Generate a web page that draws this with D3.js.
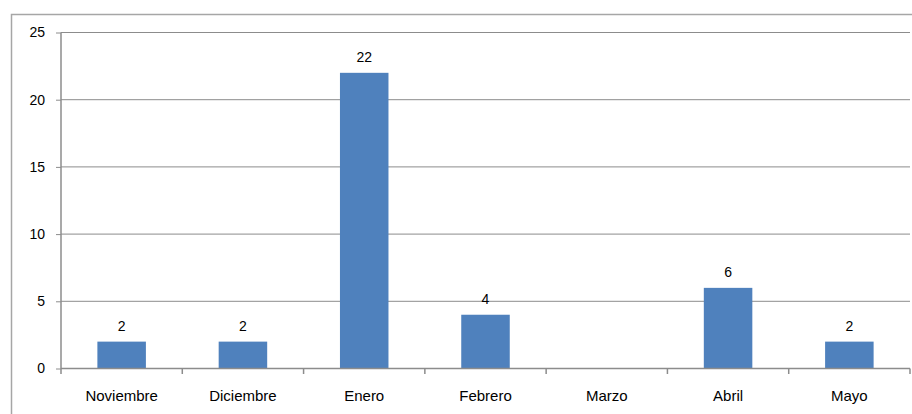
<!DOCTYPE html>
<html><head><meta charset="utf-8">
<script src="https://cdn.jsdelivr.net/npm/d3@7"></script>
<style>html,body{margin:0;padding:0;background:#fff;}svg{display:block;}</style>
</head><body>
<script>
const categories = ["Noviembre","Diciembre","Enero","Febrero","Marzo","Abril","Mayo"];
const values = [2, 2, 22, 4, null, 6, 2];
const yTicks = [0, 5, 10, 15, 20, 25];

const W = 912, H = 414;
const svg = d3.select("body").append("svg").attr("width", W).attr("height", H);
const font = "'Liberation Sans', Arial, sans-serif";

// outer chart border (cropped at right and bottom)
svg.append("rect").attr("x", 11.5).attr("y", 14.5).attr("width", 920).attr("height", 420)
  .attr("fill", "none").attr("stroke", "#a6a6a6").attr("stroke-width", 1.5);

const m = {l: 61, r: 910, t: 32.5, b: 368.5};
const x = d3.scaleBand().domain(categories).range([m.l, m.r]).paddingInner(0.6).paddingOuter(0.3);
const xb = d3.scaleBand().domain(categories).range([m.l, m.r]);
const y = d3.scaleLinear().domain([0, 25]).range([m.b, m.t]);

// gridlines
svg.append("g").selectAll("line").data(yTicks.filter(d => d > 0)).join("line")
  .attr("x1", m.l).attr("x2", m.r).attr("y1", d => y(d)).attr("y2", d => y(d))
  .attr("stroke", "#8c8c8c").attr("stroke-width", 1);

const pts = categories.map((c, i) => ({c, v: values[i]})).filter(d => d.v != null);

// bars
svg.append("g").selectAll("rect").data(pts).join("rect")
  .attr("x", d => x(d.c)).attr("width", x.bandwidth())
  .attr("y", d => y(d.v)).attr("height", d => y(0) - y(d.v))
  .attr("fill", "#4f81bd");

// data labels
svg.append("g").selectAll("text").data(pts).join("text")
  .attr("x", d => x(d.c) + x.bandwidth() / 2).attr("y", d => y(d.v) - 16)
  .attr("dy", "0.35em").attr("text-anchor", "middle")
  .attr("font-family", font).attr("font-size", 14).attr("fill", "#000").text(d => d.v);

// y axis
const yAxis = svg.append("g").attr("transform", `translate(${m.l},0)`)
  .call(d3.axisLeft(y).tickValues(yTicks).tickSize(5).tickPadding(11).tickSizeOuter(0));
yAxis.select(".domain").remove();
yAxis.append("line").attr("x1", 0).attr("x2", 0).attr("y1", m.t).attr("y2", m.b + 5.5)
  .attr("stroke", "#8c8c8c").attr("stroke-width", 1.5);
yAxis.selectAll(".tick line").attr("stroke", "#8c8c8c").attr("stroke-width", 1);
yAxis.selectAll("text").attr("font-family", font).attr("font-size", 14).attr("fill", "#000");

// x axis
const xAxis = svg.append("g").attr("transform", `translate(0,${m.b})`);
xAxis.append("line").attr("x1", m.l).attr("x2", m.r).attr("y1", 0).attr("y2", 0)
  .attr("stroke", "#8c8c8c").attr("stroke-width", 1.5);
const bounds = categories.map(c => xb(c)).concat([m.r]);
xAxis.selectAll("line.tk").data(bounds.slice(1)).join("line").attr("class", "tk")
  .attr("x1", d => d).attr("x2", d => d).attr("y1", 0).attr("y2", 5.5)
  .attr("stroke", "#8c8c8c").attr("stroke-width", 1.5);
xAxis.selectAll("text").data(categories).join("text")
  .attr("x", d => xb(d) + xb.bandwidth() / 2).attr("y", 27.5).attr("dy", "0.35em")
  .attr("text-anchor", "middle").attr("font-family", font).attr("font-size", 15).attr("fill", "#000")
  .text(d => d);
</script>
</body></html>
